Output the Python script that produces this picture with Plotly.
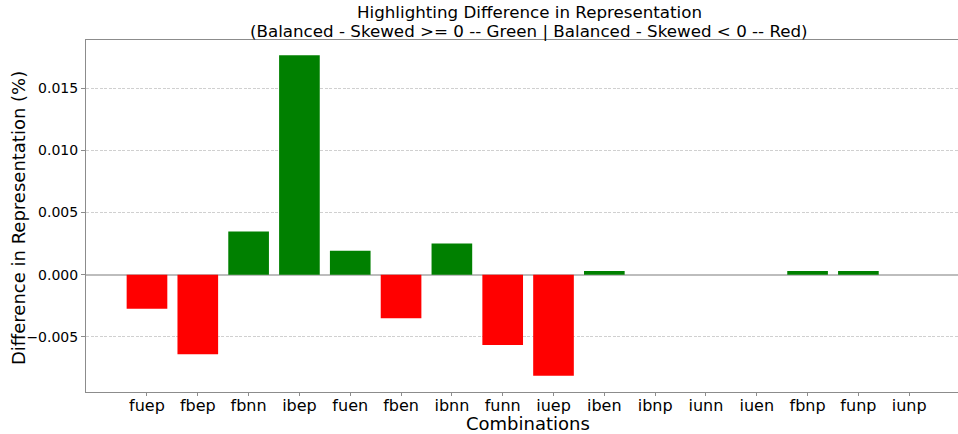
import plotly.graph_objects as go

categories = ["fuep", "fbep", "fbnn", "ibep", "fuen", "fben", "ibnn", "funn",
              "iuep", "iben", "ibnp", "iunn", "iuen", "fbnp", "funp", "iunp"]
differences = [-0.00274, -0.0064, 0.00347, 0.01766, 0.00194, -0.00349, 0.00252, -0.00565,
               -0.00812, 0.0003, 0.0, 0.0, 0.0, 0.0003, 0.0003, 0.0]
y_ticks = [-0.005, 0.0, 0.005, 0.010, 0.015]
y_tick_labels = ["\u22120.005", "0.000", "0.005", "0.010", "0.015"]
title_lines = ["Highlighting Difference in Representation",
               "(Balanced - Skewed >= 0 -- Green | Balanced - Skewed < 0 -- Red)"]

colors = ["#008000" if v >= 0 else "#ff0000" for v in differences]
xs = list(range(len(categories)))

fig = go.Figure()
fig.add_trace(go.Bar(x=xs, y=differences, marker=dict(color=colors, line=dict(width=0)),
                     width=0.8, hoverinfo="skip"))

font = "DejaVu Sans, sans-serif"
W, H = 958, 434
L, R, T, B = 86, 0, 40, 42
fig.update_layout(
    width=W, height=H,
    margin=dict(l=L, r=R, t=T, b=B),
    plot_bgcolor="white", paper_bgcolor="white",
    showlegend=False,
    font=dict(family=font, color="black"),
)


def px_to_paper(px, py):
    return (px - L) / (W - L - R), ((H - py) - B) / (H - T - B)


for text, px, py, size, ang in [
    (title_lines[0], 529, 12, 16.7, 0),
    (title_lines[1], 529, 31, 16.7, 0),
    ("Combinations", 528, 423, 18, 0),
    ("Difference in Representation (%)", 19, 218, 18, -90),
]:
    x, y = px_to_paper(px, py)
    fig.add_annotation(text=text, xref="paper", yref="paper", x=x, y=y,
                       xanchor="center", yanchor="middle", textangle=ang, showarrow=False,
                       font=dict(size=size, family=font, color="black"))

fig.update_xaxes(
    range=[-1.2, 15.96], automargin=False,
    tickmode="array", tickvals=xs, ticktext=categories,
    tickfont=dict(size=16, family=font),
    showgrid=False, zeroline=False,
    showline=True, linecolor="#8c8c8c", linewidth=1, mirror=True,
    ticks="outside", ticklen=3, tickcolor="#8c8c8c",
    ticklabelstandoff=-4,
)
fig.update_yaxes(
    range=[-0.00943, 0.01888], automargin=False,
    tickmode="array", tickvals=y_ticks, ticktext=y_tick_labels,
    tickfont=dict(size=14, family=font),
    showgrid=True, gridcolor="#d0d0d0", griddash="3px,1.5px", gridwidth=0.8,
    zeroline=True, zerolinecolor="#bdbdbd", zerolinewidth=2,
    showline=True, linecolor="#8c8c8c", linewidth=1,
    ticks="outside", ticklen=4, tickcolor="#8c8c8c",
)
fig.write_html("out.html", config={"displayModeBar": False},
               post_script="document.body.style.margin='0px';document.body.style.overflow='hidden';")
